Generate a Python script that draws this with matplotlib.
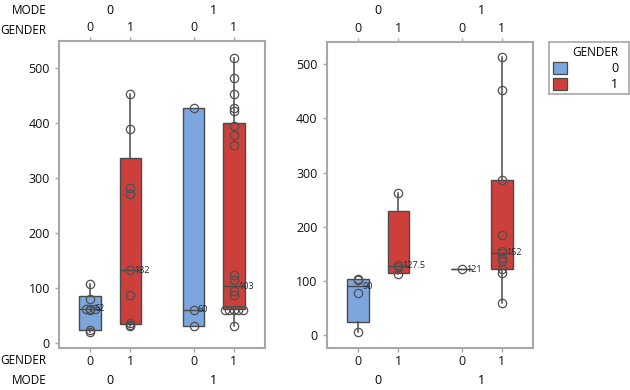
import numpy as np
import matplotlib.pyplot as plt
from matplotlib.transforms import blended_transform_factory
from matplotlib.patches import Rectangle

plt.rcParams['font.family'] = ['Open Sans', 'DejaVu Sans']

# groups, in plotting order
modes = ['0', '0', '1', '1']
genders = ['0', '1', '0', '1']
gender_levels = ['0', '1']
colors = {'0': '#7BA7DE', '1': '#CD3F3B'}
positions = [0, 1, 2.57, 3.57]

# left panel
p1_values = [
    [106, 79, 62, 62, 62, 60, 24, 20],
    [452, 389, 282, 270, 132, 86, 35, 32, 30],
    [427, 60, 30],
    [518, 482, 453, 427, 421, 394, 378, 359, 124, 114, 94, 87, 60, 60, 60, 60, 60, 30],
]
p1_q1 = [23.6, 33.5, 30, 61]
p1_med = [62, 132, 60, 103]
p1_q3 = [85.5, 335, 427, 400]

# right panel
p2_values = [
    [104, 102, 78, 5],
    [262, 130, 125, 112],
    [121],
    [513, 453, 286, 184, 155, 152, 142, 137, 121, 114, 59],
]
p2_q1 = [23.3, 115.3, 121, 121]
p2_med = [90, 127.5, 121, 152]
p2_q3 = [103.5, 229, 121, 286]

W, H = 630, 390
fig = plt.figure(figsize=(6.3, 3.9), dpi=100)

edge = '#4A4A4A'
frame = '#A8A8A8'


def panel(rect, values, q1, med, q3, ylim, row_titles):
    ax = fig.add_axes(rect)
    stats = []
    for v, a, m, b in zip(values, q1, med, q3):
        stats.append(dict(q1=a, med=m, q3=b, whislo=min(v), whishi=max(v), fliers=[]))
    bp = ax.bxp(stats, positions=positions, widths=0.54, patch_artist=True,
                showfliers=False, showcaps=False,
                boxprops=dict(edgecolor=edge, linewidth=1),
                medianprops=dict(color=edge, linewidth=1),
                whiskerprops=dict(color=edge, linewidth=1.1))
    for box, g in zip(bp['boxes'], genders):
        box.set_facecolor(colors[g])
    # individual values, equal values spread sideways
    for x, v in zip(positions, values):
        xs, ys = [], []
        for val in sorted(set(v)):
            k = v.count(val)
            for i in range(k):
                xs.append(x + (i - (k - 1) / 2) * 0.11)
                ys.append(val)
        ax.plot(xs, ys, 'o', ms=6, mfc='none', mec='#505050', mew=0.9, zorder=4)
    for x, m in zip(positions, med):
        ax.text(x + 0.1, m, f'{m:g}', fontsize=6.5, va='center', ha='left',
                color='#1E2A3A', zorder=5)
    ax.set_xlim(-0.78, 4.35)
    ax.set_ylim(*ylim)
    ax.set_yticks(range(0, 501, 100))
    ax.set_xticks(positions)
    ax.set_xticklabels(genders)
    ax.tick_params(axis='both', labelsize=9, colors=frame, labelcolor='#111111',
                   length=3, width=1)
    ax.tick_params(axis='x', top=True, labeltop=True, pad=2)
    for s in ax.spines.values():
        s.set_color(frame)
        s.set_linewidth(1.5)
    # MODE labels above and below
    tr = blended_transform_factory(ax.transData, fig.transFigure)
    for m in sorted(set(modes)):
        xm = np.mean([p for p, mm in zip(positions, modes) if mm == m])
        ax.text(xm, 1 - 10 / H, m, transform=tr, ha='center', va='center', fontsize=9)
        ax.text(xm, 1 - 381 / H, m, transform=tr, ha='center', va='center', fontsize=9)
    if row_titles:
        for y, t in [(10, 'MODE'), (31, 'GENDER'), (360, 'GENDER'), (381, 'MODE')]:
            fig.text(46.5 / W, 1 - y / H, t, ha='right', va='center', fontsize=8.5)
    return ax


panel([59 / W, 1 - 347.7 / H, 206 / W, 306.7 / H], p1_values, p1_q1, p1_med, p1_q3,
      (-9, 548.5), True)
panel([326.7 / W, 1 - 347.7 / H, 206.6 / W, 306 / H], p2_values, p2_q1, p2_med, p2_q3,
      (-23.5, 541.7), False)

# legend
lax = fig.add_axes([549 / W, 1 - 94.3 / H, 80 / W, 52.6 / H])
lax.set_xlim(0, 80)
lax.set_ylim(52.6, 0)
lax.set_xticks([])
lax.set_yticks([])
for s in lax.spines.values():
    s.set_color(frame)
    s.set_linewidth(1.2)
lax.text(69, 11, 'GENDER', ha='right', va='center', fontsize=8.5)
for i, g in enumerate(gender_levels):
    y = 26.5 + i * 16
    lax.add_patch(Rectangle((4, y - 6), 14, 12, facecolor=colors[g], edgecolor=edge, lw=0.9))
    lax.text(69, y, g, ha='right', va='center', fontsize=9)

fig.savefig('out.png', dpi=100)
